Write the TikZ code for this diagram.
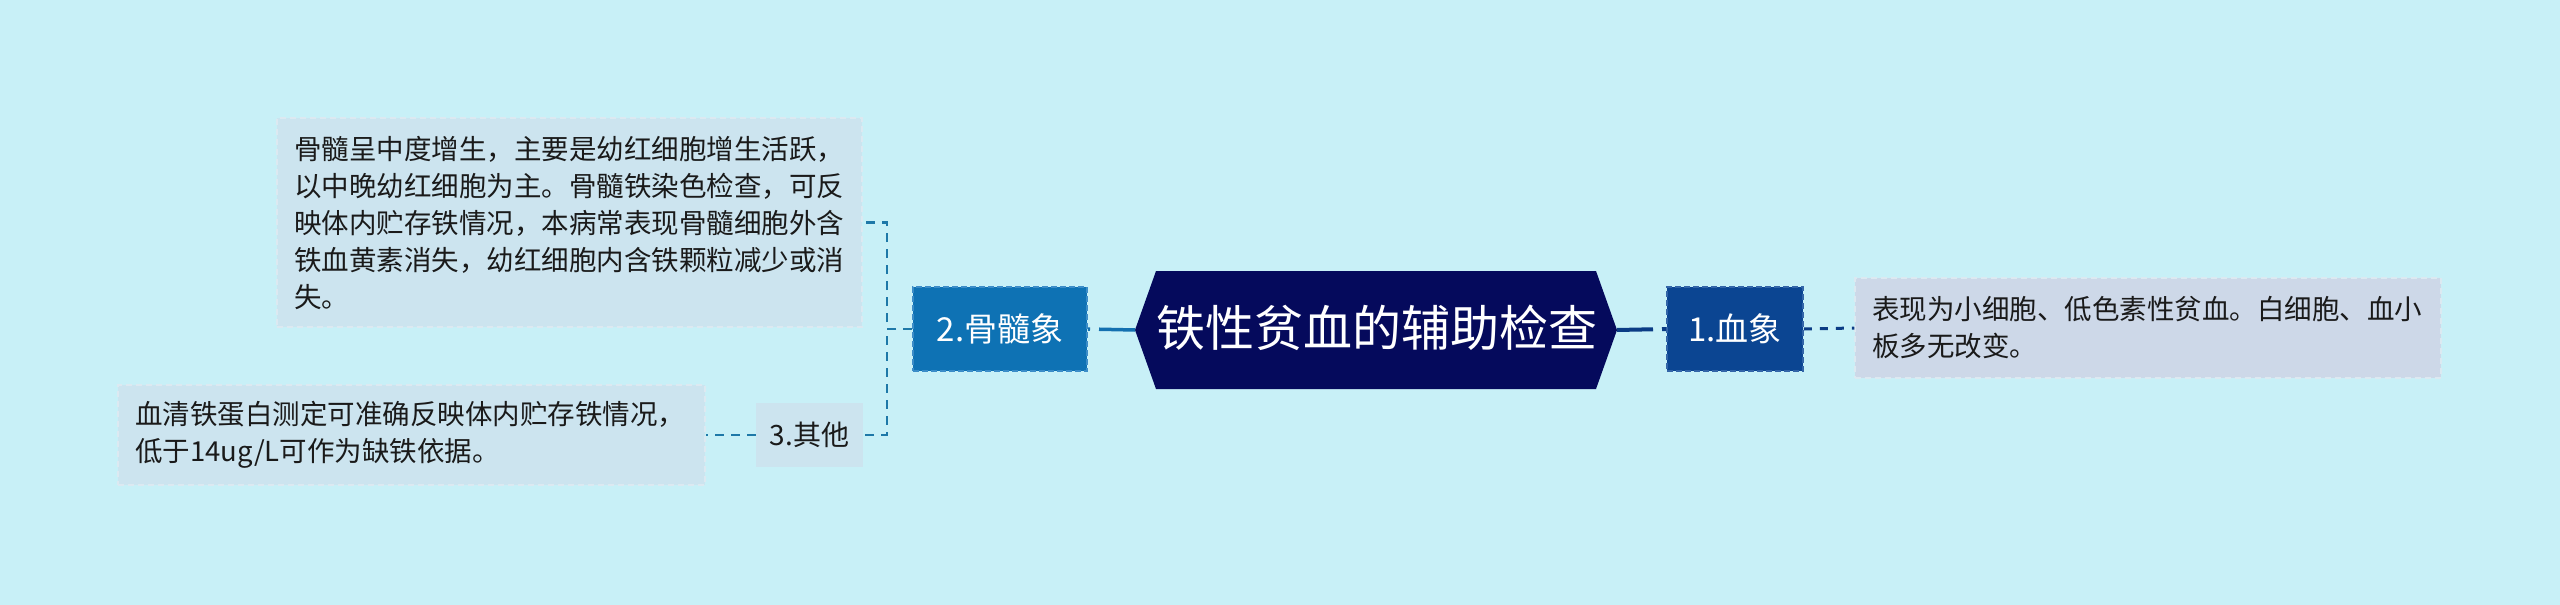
\documentclass[tikz,border=0pt]{standalone}
\usepackage{fontspec}
\newfontfamily\cjk{Noto Sans CJK SC}
\usetikzlibrary{calc}
\definecolor{bgcol}{HTML}{C8F0F7}
\definecolor{rootcol}{HTML}{050A5C}
\definecolor{onefill}{HTML}{0B4592}
\definecolor{oneline}{HTML}{3365A8}
\definecolor{twofill}{HTML}{0E72B4}
\definecolor{twoline}{HTML}{3C8DC8}
\definecolor{conA}{HTML}{0B3C85}
\definecolor{conB}{HTML}{1370B0}
\definecolor{conC}{HTML}{1E78A8}
\definecolor{leafblue}{HTML}{CCE4EF}
\definecolor{leafgray}{HTML}{CDD8E8}
\definecolor{leafedge}{HTML}{DCE9F1}
\definecolor{txt}{HTML}{1A1A1A}
\begin{document}
\begin{tikzpicture}[x=1pt,y=-1pt,
  roottext/.style={inner sep=0pt, text=white, font=\cjk\fontsize{49}{58}\selectfont},
  subbox/.style={rectangle, text=white, line width=1.8pt, dash pattern=on 6pt off 3pt,
    inner sep=0pt, font=\cjk\fontsize{33}{40}\selectfont},
  leafbox/.style={rectangle, draw=leafedge, line width=1.5pt, dash pattern=on 6pt off 4pt,
    inner xsep=17pt, inner ysep=0pt, align=left, text=txt,
    font=\cjk\fontsize{27.5}{37}\selectfont},
  conone/.style={draw=conA, line width=4pt, dash pattern=on 36pt off 9pt},
  contwo/.style={draw=conB, line width=3.5pt, dash pattern=on 36pt off 9pt},
  conleafA/.style={draw=conA, line width=3pt, dash pattern=on 8pt off 8pt},
  conleafC/.style={draw=conC, line width=2.5pt, dash pattern=on 9pt off 7pt}
]
\fill[bgcol] (0,0) rectangle (2560,605);
\useasboundingbox (0,0) rectangle (2560,605);

% root hexagon
\coordinate (rootW) at (1135,330);
\coordinate (rootE) at (1617,330);
\fill[rootcol] (1156,271) -- (1596,271) -- (rootE) -- (1596,389) -- (1156,389) -- (rootW) -- cycle;
\node[roottext] (root) at (1377,328) {铁性贫血的辅助检查};

% first-level nodes
\node[subbox, fill=onefill, draw=oneline, minimum width=136pt, minimum height=84pt] (one) at (1735,329) {1.血象};
\node[subbox, fill=twofill, draw=twoline, minimum width=174pt, minimum height=84pt] (two) at (1000,329) {2.骨髓象};
\node[rectangle, fill=leafblue, inner sep=0pt, minimum width=107pt, minimum height=64pt,
  text=txt, font=\cjk\fontsize{28}{34}\selectfont] (three) at (809.5,435) {3.其他};

% leaves
\node[leafbox, fill=leafgray, text width=552pt, minimum height=100pt] (leafR) at (2148,328)
  {表现为小细胞、低色素性贫血。白细胞、血小\\板多无改变。};
\node[leafbox, fill=leafblue, text width=551pt, minimum height=209pt] (leafT) at (569.5,222.5)
  {骨髓呈中度增生，主要是幼红细胞增生活跃，\\以中晚幼红细胞为主。骨髓铁染色检查，可反\\映体内贮存铁情况，本病常表现骨髓细胞外含\\铁血黄素消失，幼红细胞内含铁颗粒减少或消\\失。};
\node[leafbox, fill=leafblue, text width=553pt, minimum height=100pt] (leafB) at (411.5,435)
  {血清铁蛋白测定可准确反映体内贮存铁情况，\\低于14ug/L可作为缺铁依据。};

% connectors
\draw[conone] (rootE) -- (one.west);
\draw[contwo] (rootW) -- (two.east);
\draw[conleafA] (one.east) -- (leafR.west);
\draw[conleafC] (two.west) -- ++(-25,0) |- (leafT.east);
\draw[conleafC] (two.west) -- ++(-25,0) |- (three.east);
\draw[conleafC] (three.west) -- (leafB.east);
\end{tikzpicture}
\end{document}
